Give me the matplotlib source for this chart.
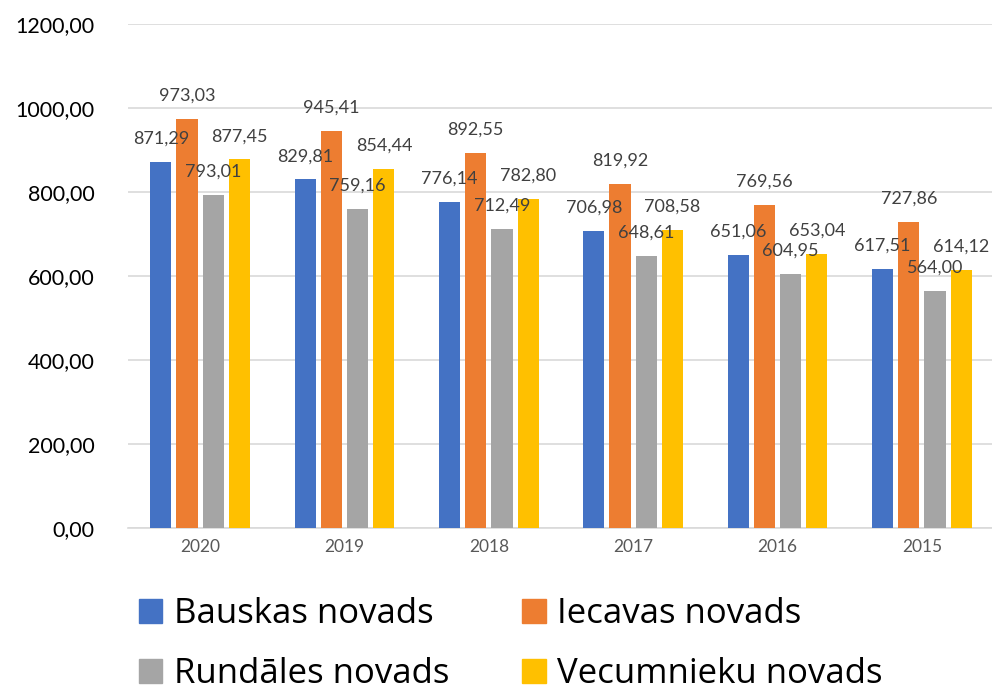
import matplotlib
matplotlib.use("Agg")
import matplotlib.pyplot as plt
import numpy as np
from matplotlib.patches import Patch

years = ["2020", "2019", "2018", "2017", "2016", "2015"]
series_names = ["Bauskas novads", "Iecavas novads", "Rundāles novads", "Vecumnieku novads"]
bauska = [871.29, 829.81, 776.14, 706.98, 651.06, 617.51]
iecava = [973.03, 945.41, 892.55, 819.92, 769.56, 727.86]
rundale = [793.01, 759.16, 712.49, 648.61, 604.95, 564.00]
vecumnieki = [877.45, 854.44, 782.80, 708.58, 653.04, 614.12]
yticks = [0, 200, 400, 600, 800, 1000, 1200]

colors = ["#4472C4", "#ED7D31", "#A5A5A5", "#FFC000"]
plt.rcParams['font.family'] = ['Lato', 'DejaVu Sans']

fig = plt.figure(figsize=(9.92, 6.92), dpi=100)
ax = fig.add_axes([128/992, 164/692, 866/992, 504/692])

x = np.arange(len(years))
pitch = 0.182
width = 0.146
all_series = [bauska, iecava, rundale, vecumnieki]
for i, (vals, c) in enumerate(zip(all_series, colors)):
    pos = x + (i - 1.5) * pitch
    ax.bar(pos, vals, width, color=c, zorder=3)
    for px, v in zip(pos, vals):
        ax.annotate(f"{v:.2f}".replace(".", ","), (px, v), xytext=(0, 11),
                    textcoords="offset points", ha="center", va="bottom",
                    fontsize=13, color="#404040", zorder=4)

ax.set_ylim(0, 1200)
ax.set_xlim(-0.5, 5.5)
ax.set_yticks(yticks)
ax.set_yticklabels([f"{t:.2f}".replace(".", ",") for t in yticks], fontsize=15.5, color="black")
ax.set_xticks(x)
ax.set_xticklabels(years, fontsize=12.5, color="#595959")
ax.yaxis.grid(True, color="#D9D9D9", linewidth=1.2, zorder=0)
ax.tick_params(axis="both", length=0)
ax.tick_params(axis="y", pad=24)
ax.tick_params(axis="x", pad=8)
for s in ["top", "right", "left"]:
    ax.spines[s].set_visible(False)
ax.spines["bottom"].set_color("#D9D9D9")
ax.spines["bottom"].set_linewidth(1.2)

# legend filled column-wise: reorder so rows read B, I / R, V
order = [0, 2, 1, 3]
handles = [Patch(color=colors[k]) for k in order]
labels = [series_names[k] for k in order]
fig.legend(handles, labels, loc="upper left", bbox_to_anchor=(139/992, 0.137),
           ncol=2, frameon=False, prop={'family': 'Open Sans', 'size': 25},
           handlelength=0.67, handleheight=0.67,
           handletextpad=0.34, columnspacing=2.1, labelspacing=0.74, borderpad=0,
           borderaxespad=0)

fig.savefig("out.png", dpi=100)
